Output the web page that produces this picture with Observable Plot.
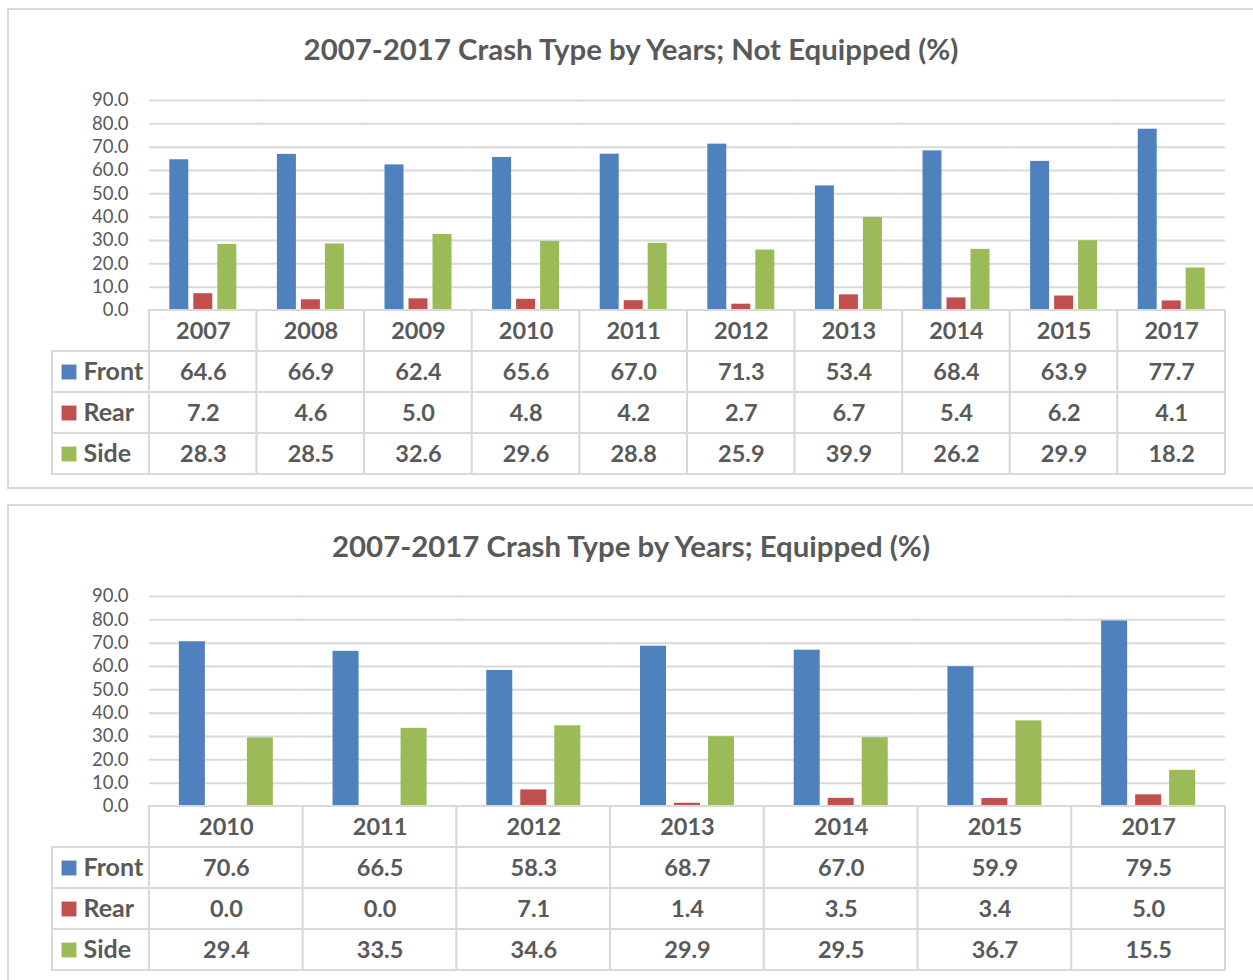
<!DOCTYPE html>
<html>
<head>
<meta charset="utf-8">
<script src="https://cdn.jsdelivr.net/npm/d3@7"></script>
<script src="https://cdn.jsdelivr.net/npm/@observablehq/plot@0.6"></script>
<style>
  html, body { margin: 0; padding: 0; background: #fff; }
  body { width: 1253px; height: 980px; overflow: hidden; position: relative; font-family: Lato, "Open Sans", sans-serif; }
  .panel { position: absolute; left: 7px; width: 1260px; border: 2px solid #d9d9d9; box-sizing: border-box; background: #fff; }
  .title { position: absolute; left: 0; width: 1262px; text-align: center; font-weight: bold; font-size: 29.4px; color: #595959; line-height: 34px; }
  .abs { position: absolute; left: 0; }
  svg { display: block; }
</style>
</head>
<body>
<div class="panel" style="top:8px;height:481px;"></div>
<div class="panel" style="top:504px;height:500px;"></div>
<div class="title" style="top:32px;">2007-2017 Crash Type by Years; Not Equipped (%)</div>
<div class="title" style="top:529px;">2007-2017 Crash Type by Years; Equipped (%)</div>
<div id="c1" class="abs" style="top:88px;"></div>
<div id="t1" class="abs" style="top:308px;"></div>
<div id="c2" class="abs" style="top:584px;"></div>
<div id="t2" class="abs" style="top:804px;"></div>
<script>
// ---- data ----
const types = ["Front", "Rear", "Side"];
const colors = ["#4f81bd", "#c0504d", "#9bbb59"];
const yTicks = [0, 10, 20, 30, 40, 50, 60, 70, 80, 90];

const years1 = ["2007", "2008", "2009", "2010", "2011", "2012", "2013", "2014", "2015", "2017"];
const front1 = [64.6, 66.9, 62.4, 65.6, 67.0, 71.3, 53.4, 68.4, 63.9, 77.7];
const rear1  = [7.2, 4.6, 5.0, 4.8, 4.2, 2.7, 6.7, 5.4, 6.2, 4.1];
const side1  = [28.3, 28.5, 32.6, 29.6, 28.8, 25.9, 39.9, 26.2, 29.9, 18.2];

const years2 = ["2010", "2011", "2012", "2013", "2014", "2015", "2017"];
const front2 = [70.6, 66.5, 58.3, 68.7, 67.0, 59.9, 79.5];
const rear2  = [0.0, 0.0, 7.1, 1.4, 3.5, 3.4, 5.0];
const side2  = [29.4, 33.5, 34.6, 29.9, 29.5, 36.7, 15.5];

const W = 1253, ML = 149, MR = 28;
const textColor = "#595959";
const gridColor = "#d9d9d9";
const font = 'Lato, "Open Sans", sans-serif';

function build(years, series, pIn, pOut, chartId, tableId) {
  const rows = [];
  years.forEach((y, i) => types.forEach((t, k) => rows.push({year: y, type: t, value: series[k][i]})));

  const chart = Plot.plot({
    width: W, height: 224,
    marginLeft: ML, marginRight: MR, marginTop: 12, marginBottom: 2,
    style: {background: "transparent", fontFamily: font, fontSize: "18.5px", color: textColor, overflow: "visible"},
    facet: {data: rows, x: "year"},
    fx: {domain: years, padding: 0, round: false, axis: null, label: null},
    x: {domain: types, paddingInner: pIn, paddingOuter: pOut, round: false, axis: null},
    y: {domain: [0, 90], ticks: yTicks, tickFormat: d => d.toFixed(1), tickSize: 0, tickPadding: 21, label: null},
    color: {domain: types, range: colors},
    marks: [
      Plot.ruleY(yTicks, {stroke: gridColor, strokeWidth: 2}),
      Plot.barY(rows, {x: "type", y: "value", fill: "type"})
    ]
  });
  document.getElementById(chartId).appendChild(chart);

  const cells = [];
  years.forEach(y => cells.push({year: y, row: "header", label: y}));
  years.forEach((y, i) => types.forEach((t, k) => cells.push({year: y, row: t, label: series[k][i].toFixed(1)})));
  const legendRows = types.map((t, k) => ({row: t, name: t, color: colors[k]}));
  const frameW = W - ML - MR;

  const table = Plot.plot({
    width: W, height: 168,
    marginLeft: ML, marginRight: MR, marginTop: 2, marginBottom: 2,
    style: {background: "transparent", fontFamily: font, color: textColor, overflow: "visible"},
    x: {domain: years, padding: 0, round: false, axis: null},
    y: {domain: ["header", ...types], padding: 0, round: false, axis: null},
    marks: [
      Plot.cell(legendRows, {y: "row", fill: "white", stroke: gridColor, strokeWidth: 2, insetLeft: -97, insetRight: frameW}),
      Plot.cell(cells, {x: "year", y: "row", fill: "white", stroke: gridColor, strokeWidth: 2}),
      Plot.text(cells, {x: "year", y: "row", text: "label", fill: textColor, fontSize: 23.5, fontWeight: "bold"}),
      Plot.dot(legendRows, {y: "row", frameAnchor: "left", dx: -80.5, symbol: "square", r: 8.4, fill: "color", stroke: null}),
      Plot.text(legendRows, {y: "row", text: "name", frameAnchor: "left", dx: -66, textAnchor: "start", fill: textColor, fontSize: 25, fontWeight: "bold"})
    ]
  });
  document.getElementById(tableId).appendChild(table);
}

build(years1, [front1, rear1, side1], 5 / 24, 0.846, "c1", "t1");
build(years2, [front2, rear2, side2], 8 / 34, 0.878, "c2", "t2");
</script>
</body>
</html>
